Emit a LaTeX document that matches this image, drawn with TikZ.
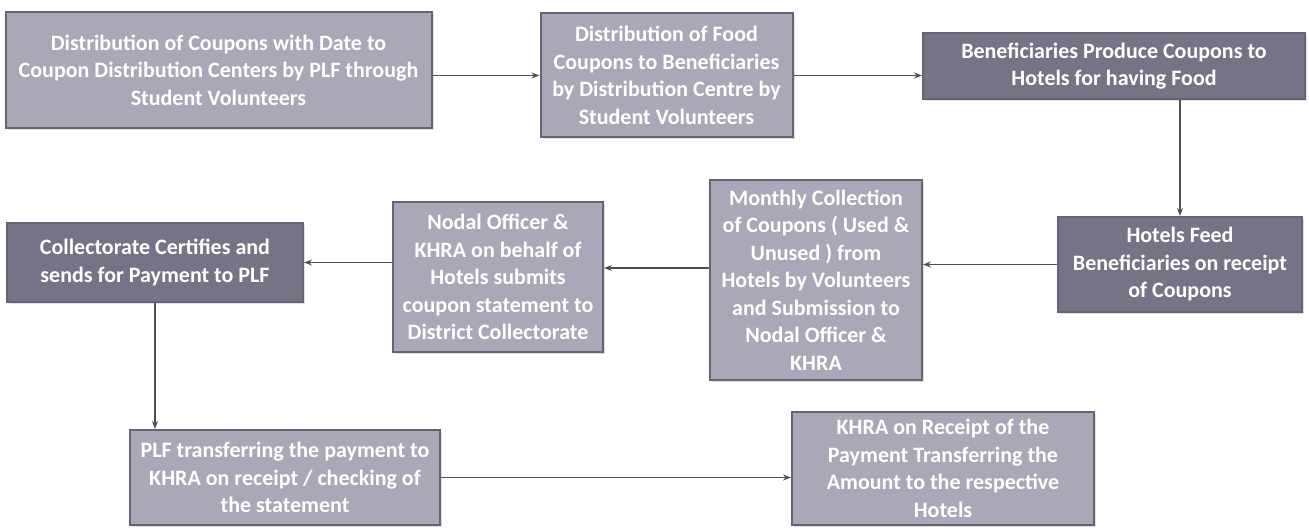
\documentclass[tikz,border=0pt]{standalone}
\usepackage{fontspec}
\setmainfont{Carlito}
\usepackage{tikz}
\usetikzlibrary{arrows.meta, positioning, shadows}
\definecolor{boxlight}{RGB}{168,168,184}
\definecolor{boxdark}{RGB}{116,116,134}
\definecolor{boxedge}{RGB}{100,100,116}
\definecolor{arrowgray}{RGB}{80,80,80}

\begin{document}
\begin{tikzpicture}[x=0.5pt, y=-0.5pt,
    stage/.style={draw=boxedge, line width=1pt, text=white, align=center, inner sep=2pt,
        font=\bfseries\fontsize{11}{13.75}\selectfont,
        drop shadow={opacity=0.25, shadow xshift=1pt, shadow yshift=-1pt}},
    lightstage/.style={stage, fill=boxlight},
    darkstage/.style={stage, fill=boxdark},
    flow/.style={-{Stealth[length=4pt, width=3pt]}, arrowgray, line width=0.6pt}]
    \useasboundingbox (0,0) rectangle (1309,528);

    \node[lightstage, minimum width=213pt, minimum height=58pt] (coupons) at (218.5,70)
        {Distribution of Coupons with Date to\\Coupon Distribution Centers by PLF through\\Student Volunteers};
    \node[lightstage, minimum width=126pt, minimum height=62pt] (food) at (666.5,75.5)
        {Distribution of Food\\Coupons to Beneficiaries\\by Distribution Centre by\\Student Volunteers};
    \node[darkstage, minimum width=191pt, minimum height=33pt] (produce) at (1114,66)
        {Beneficiaries Produce Coupons to\\Hotels for having Food};
    \node[darkstage, minimum width=122pt, minimum height=47.5pt] (feed) at (1180,264.5)
        {Hotels Feed\\Beneficiaries on receipt\\of Coupons};
    \node[lightstage, minimum width=106pt, minimum height=100pt] (collect) at (816,280)
        {Monthly Collection\\of Coupons ( Used \&\\Unused ) from\\Hotels by Volunteers\\and Submission to\\Nodal Officer \&\\KHRA};
    \node[lightstage, minimum width=105pt, minimum height=75pt] (submit) at (498,277)
        {Nodal Officer \&\\KHRA on behalf of\\Hotels submits\\coupon statement to\\District Collectorate};
    \node[darkstage, minimum width=148pt, minimum height=39.5pt] (certify) at (155,262.5)
        {Collectorate Certifies and\\sends for Payment to PLF};
    \node[lightstage, minimum width=155pt, minimum height=47.5pt] (transfer) at (285,477.5)
        {PLF transferring the payment to\\KHRA on receipt / checking of\\the statement};
    \node[lightstage, minimum width=151pt, minimum height=56.5pt] (hotelpay) at (943,468.5)
        {KHRA on Receipt of the\\Payment Transferring the\\Amount to the respective\\Hotels};

    \draw[flow] (coupons.east |- food.west) -- (food.west);
    \draw[flow] (food.east) -- (food.east -| produce.west);
    \draw[flow] (produce.south -| feed.north) -- (feed.north);
    \draw[flow] (feed.west) -- (feed.west -| collect.east);
    \draw[flow] ([yshift=6pt]collect.west) -- ([yshift=6pt]collect.west -| submit.east);
    \draw[flow] (submit.west |- certify.east) -- (certify.east);
    \draw[flow] (certify.south) -- (certify.south |- transfer.north);
    \draw[flow] (transfer.east) -- (transfer.east -| hotelpay.west);
\end{tikzpicture}
\end{document}
